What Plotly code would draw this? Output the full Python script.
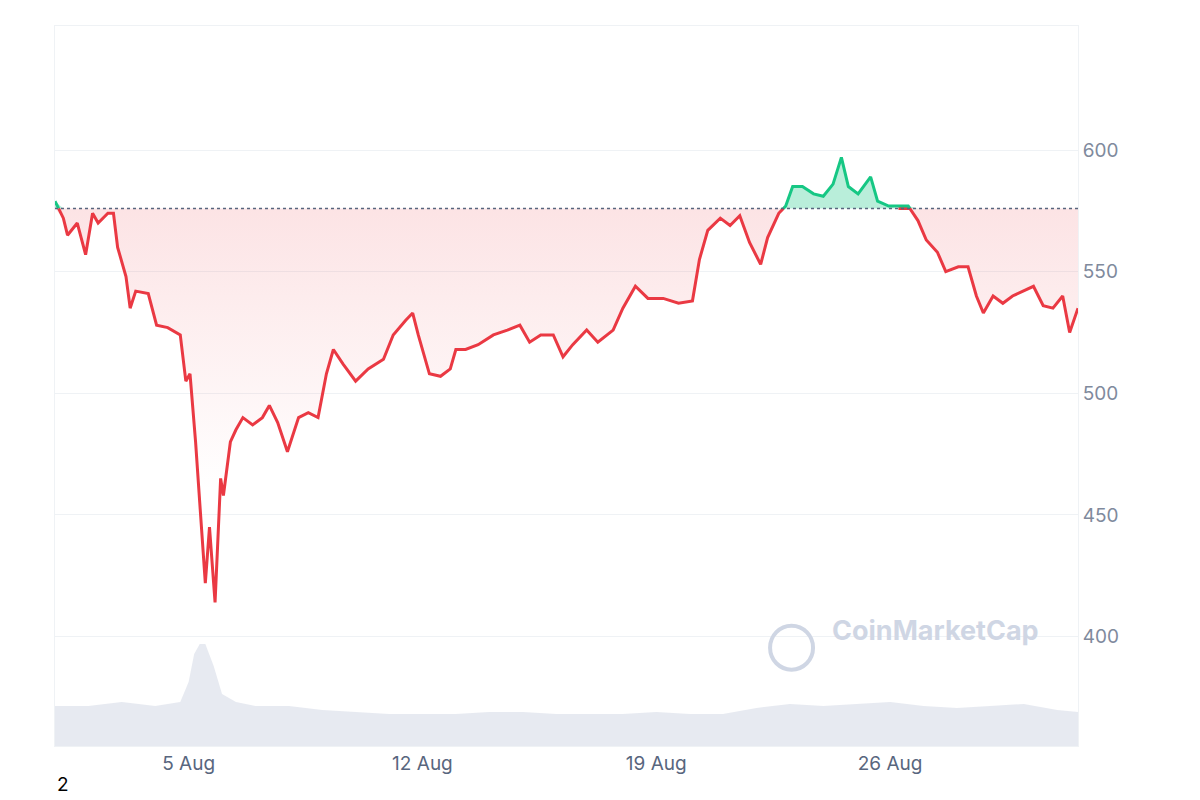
import plotly.graph_objects as go
import pandas as pd

start = pd.Timestamp("2024-08-01 00:00")
hours = [0,6,9,16,22,27,31,38,42,45,51,54,58,67,73,81,90,94,97,101,104,108,111,115,119,121,126,130,135,142,149,154,160,167,175,182,189,195,200,207,216,225,236,243,252,257,261,269,277,284,288,295,304,315,325,334,341,349,358,365,372,382,390,401,408,417,426,437,448,458,463,469,478,485,492,499,507,512,520,525,530,537,545,552,559,565,570,577,586,591,599,606,613,620,626,634,640,649,656,662,667,674,681,688,696,703,710,717,724,729,735]
prices = [579,572,565,570,557,574,570,574,574,560,548,535,542,541,528,527,524,505,508,480,455,422,445,414,465,458,480,485,490,487,490,495,488,476,490,492,490,508,518,512,505,510,514,524,530,533,524,508,507,510,518,518,520,524,526,528,521,524,524,515,520,526,521,526,535,544,539,539,537,538,555,567,572,569,573,562,553,564,574,577,585,585,582,581,586,597,585,582,589,579,577,576,577,571,563,558,550,552,552,540,533,540,537,540,542,544,536,535,540,525,535]
base_price = 576

vol_hours = [0,24,48,72,90,96,100,104,108,114,120,130,144,168,192,216,240,264,288,312,336,360,384,408,432,456,480,504,528,552,576,600,624,648,672,696,720,735]
volume = [1.0,1.0,1.1,1.0,1.1,1.6,2.3,2.55,2.55,2.0,1.3,1.1,1.0,1.0,0.9,0.85,0.8,0.8,0.8,0.85,0.85,0.8,0.8,0.8,0.85,0.8,0.8,0.95,1.05,1.0,1.05,1.1,1.0,0.95,1.0,1.05,0.9,0.85]

t = [start + pd.Timedelta(hours=h) for h in hours]
vt = [start + pd.Timedelta(hours=h) for h in vol_hours]

red_x, red_y, grn_x, grn_y = [], [], [], []
for i in range(len(t)):
    if i > 0:
        p0, p1 = prices[i-1], prices[i]
        if (p0 - base_price) * (p1 - base_price) < 0:
            f = (base_price - p0) / (p1 - p0)
            tc = t[i-1] + (t[i] - t[i-1]) * f
            red_x.append(tc); red_y.append(base_price)
            grn_x.append(tc); grn_y.append(base_price)
            if p1 > base_price:
                red_x.append(None); red_y.append(None)
            else:
                grn_x.append(None); grn_y.append(None)
    if prices[i] <= base_price:
        red_x.append(t[i]); red_y.append(prices[i])
    else:
        grn_x.append(t[i]); grn_y.append(prices[i])

below = [min(p, base_price) for p in prices]
above = [max(p, base_price) for p in prices]

RED = "#ea3943"
GREEN = "#16c784"

fig = go.Figure()
fig.add_trace(go.Scatter(x=vt, y=volume, yaxis="y2", mode="lines", line=dict(width=0),
                         fill="tozeroy", fillcolor="rgba(207,214,228,0.5)", hoverinfo="skip"))
fig.add_trace(go.Scatter(x=t, y=[base_price]*len(t), mode="lines", line=dict(width=0), hoverinfo="skip"))
fig.add_trace(go.Scatter(x=t, y=below, mode="lines", line=dict(width=0), fill="tonexty",
                         fillgradient=dict(type="vertical", start=460, stop=576,
                                           colorscale=[[0, "rgba(234,57,67,0.0)"], [1, "rgba(234,57,67,0.14)"]]),
                         hoverinfo="skip"))
fig.add_trace(go.Scatter(x=t, y=[base_price]*len(t), mode="lines", line=dict(width=0), hoverinfo="skip"))
fig.add_trace(go.Scatter(x=t, y=above, mode="lines", line=dict(width=0), fill="tonexty",
                         fillcolor="rgba(22,199,132,0.3)", hoverinfo="skip"))
fig.add_trace(go.Scatter(x=red_x, y=red_y, mode="lines", line=dict(color=RED, width=3)))
fig.add_trace(go.Scatter(x=grn_x, y=grn_y, mode="lines", line=dict(color=GREEN, width=3)))

fig.add_shape(type="line", xref="paper", x0=0, x1=1, y0=base_price, y1=base_price,
              line=dict(color="#58667e", width=1.5, dash="dot"))

fig.add_annotation(text="<b>CoinMarketCap</b>", xref="paper", yref="paper", x=0.758, y=0.135,
                   xanchor="left", showarrow=False, font=dict(size=27, color="#cfd6e4", family="Inter"))
fig.add_shape(type="circle", xref="paper", yref="paper", x0=0.699, x1=0.741, y0=0.106, y1=0.167,
              line=dict(color="#cfd6e4", width=4))
fig.add_annotation(text="2", xref="paper", yref="paper", x=0.0, y=-0.072, xanchor="left",
                   showarrow=False, font=dict(size=19, color="#000"))

fig.update_layout(
    width=1200, height=800, showlegend=False,
    plot_bgcolor="white", paper_bgcolor="white",
    margin=dict(l=47, r=130, t=18, b=62, autoexpand=False),
    font=dict(family="Inter, Roboto, sans-serif"),
    xaxis=dict(range=[start, start + pd.Timedelta(hours=735)],
               tickvals=[pd.Timestamp("2024-08-05"), pd.Timestamp("2024-08-12"),
                         pd.Timestamp("2024-08-19"), pd.Timestamp("2024-08-26")],
               ticktext=["5 Aug", "12 Aug", "19 Aug", "26 Aug"],
               showgrid=False, showline=True, linecolor="#eff2f5", mirror=True,
               tickfont=dict(size=19, color="#58667e"), ticks="", zeroline=False),
    yaxis=dict(range=[355, 651], side="right", tickvals=[400, 450, 500, 550, 600],
               gridcolor="#eff2f5", showline=True, linecolor="#eff2f5", mirror=True,
               tickfont=dict(size=19, color="#808a9d"), zeroline=False),
    yaxis2=dict(overlaying="y", range=[0, 18], visible=False),
)

fig.write_html("out.html")
